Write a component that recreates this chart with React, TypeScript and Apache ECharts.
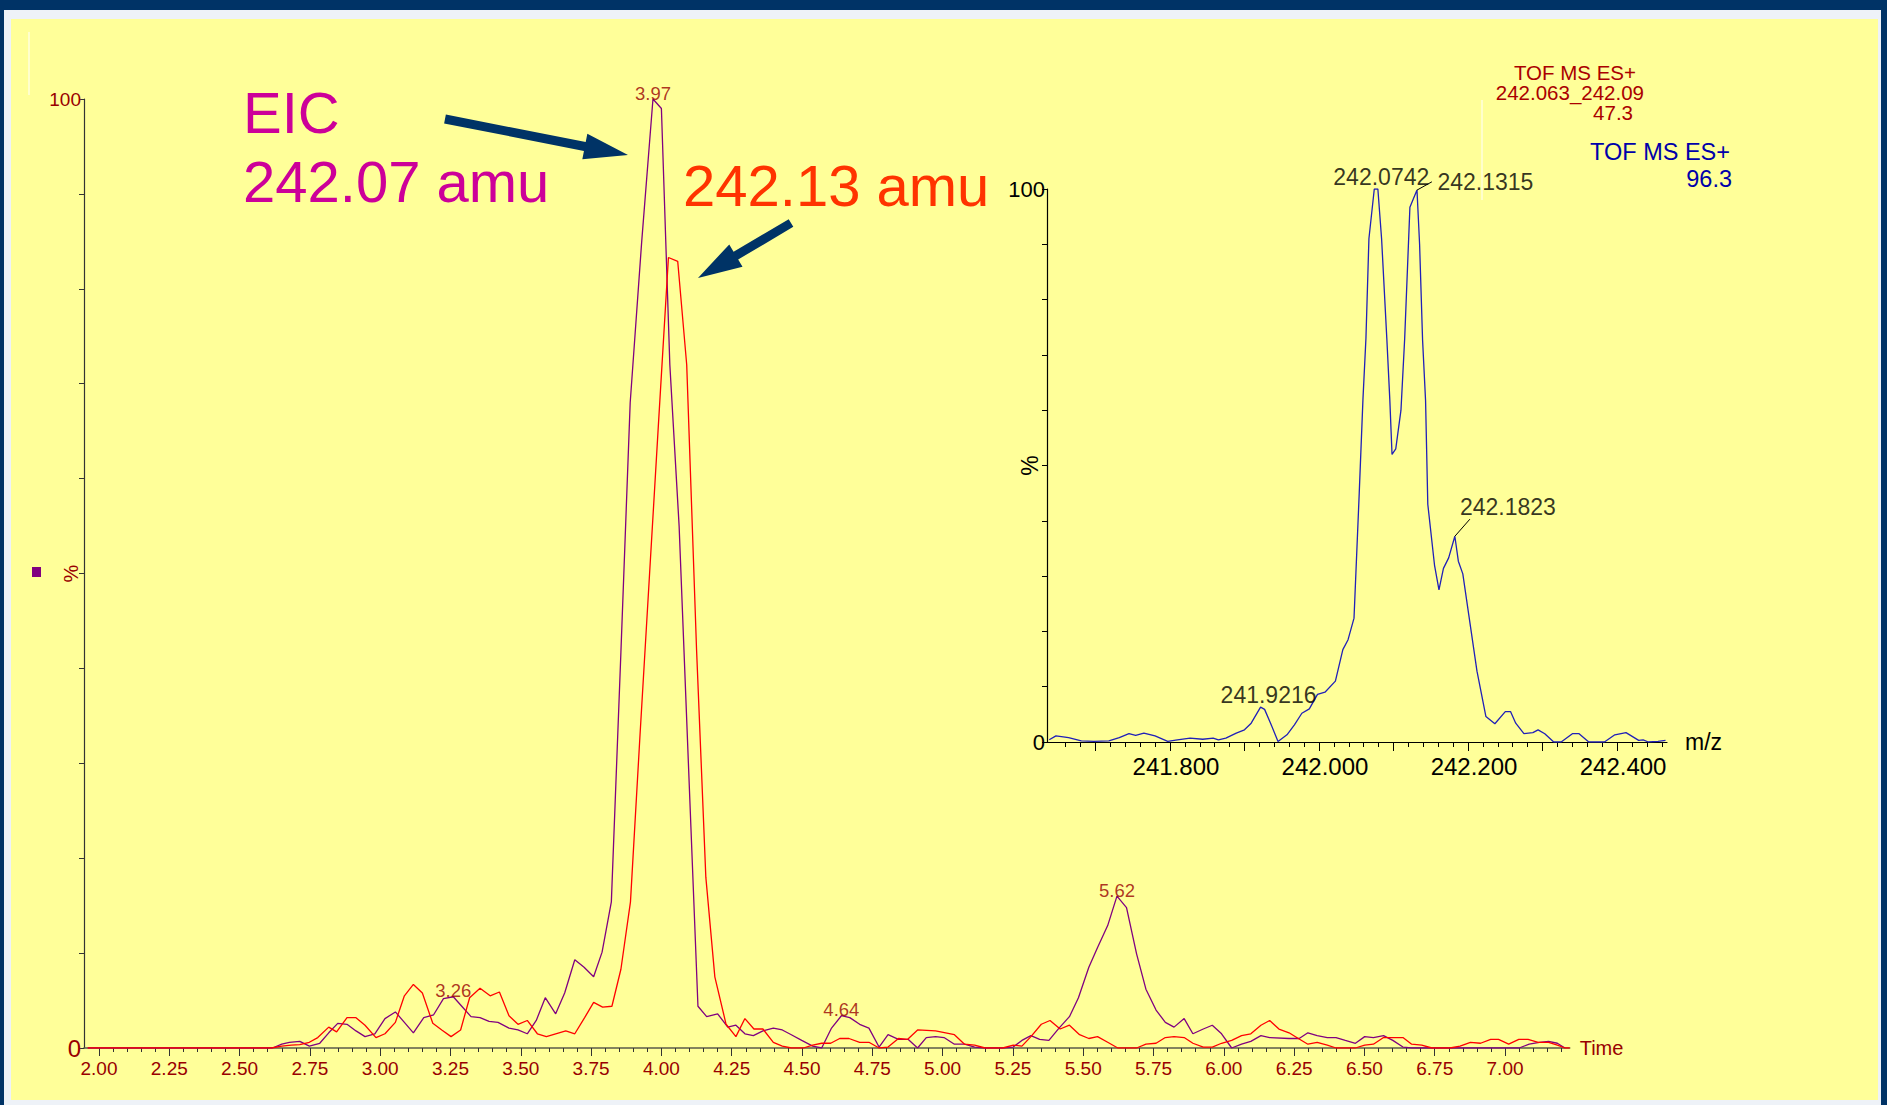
import React, { useEffect, useRef } from "react";
import * as echarts from "echarts";

const FONT = "'Liberation Sans', Arial, Helvetica, sans-serif";
const DARK_RED = "#990000";

// ---- Extracted ion chromatograms: [retention time (min), relative intensity %]
const eic24207: [number, number][] = [
  [1.96, 0], [2.617, 0], [2.65, 0.4], [2.677, 0.6], [2.714, 0.7], [2.748, 0.2], [2.785, 0.5],
  [2.817, 1.6], [2.849, 2.6], [2.882, 2.5], [2.914, 1.8], [2.946, 1.2], [2.981, 1.5], [3.017, 3.1],
  [3.054, 3.8], [3.086, 2.7], [3.118, 1.6], [3.155, 3.2], [3.19, 3.5], [3.225, 5.2], [3.26, 5.4],
  [3.29, 4.4], [3.323, 3.3], [3.355, 3.2], [3.387, 2.8], [3.419, 2.7], [3.458, 2.1], [3.49, 1.9],
  [3.523, 1.5], [3.555, 2.9], [3.587, 5.3], [3.624, 3.6], [3.656, 5.8], [3.692, 9.3], [3.725, 8.5],
  [3.759, 7.5], [3.789, 10.1], [3.822, 15.4], [3.856, 41.7], [3.889, 68], [3.93, 85], [3.97, 100],
  [4.0, 99], [4.03, 72], [4.063, 55], [4.096, 30], [4.13, 4.4], [4.161, 3.3], [4.2, 3.6],
  [4.236, 2.2], [4.265, 2.4], [4.297, 1.5], [4.327, 1.3], [4.361, 1.8], [4.398, 2.1], [4.43, 1.9],
  [4.462, 1.4], [4.499, 0.8], [4.538, 0.2], [4.57, 0], [4.605, 2.1], [4.64, 3.4], [4.67, 3.2],
  [4.705, 2.5], [4.738, 2.1], [4.774, 0.1], [4.806, 1.4], [4.843, 0.9], [4.878, 0.9], [4.911, 0],
  [4.942, 1.1], [4.975, 1.2], [5.005, 1.1], [5.042, 0.4], [5.078, 0.4], [5.114, 0.1], [5.151, 0],
  [5.214, 0], [5.251, 0.1], [5.282, 0.8], [5.314, 1.3], [5.345, 0.9], [5.378, 0.8], [5.414, 2.1],
  [5.451, 3.3], [5.483, 5.3], [5.52, 8.5], [5.551, 10.6], [5.587, 12.9], [5.62, 16], [5.654, 14.8],
  [5.69, 9.9], [5.723, 6.2], [5.759, 4], [5.792, 2.7], [5.823, 2.2], [5.859, 3.1], [5.89, 1.5],
  [5.927, 2], [5.959, 2.4], [5.992, 1.5], [6.028, 0], [6.063, 0.4], [6.096, 0.7], [6.132, 1.3],
  [6.163, 1.1], [6.232, 1], [6.268, 1], [6.299, 1.6], [6.332, 1.3], [6.368, 1.1], [6.399, 1.1],
  [6.432, 0.8], [6.468, 0.5], [6.501, 1.2], [6.532, 1.1], [6.568, 1.3], [6.601, 0.8], [6.637, 0.1],
  [6.668, 0], [7.05, 0], [7.086, 0.4], [7.122, 0.6], [7.155, 0.7], [7.186, 0.5], [7.213, 0],
];

const eic24213: [number, number][] = [
  [1.96, 0], [2.613, 0], [2.65, 0.2], [2.684, 0.3], [2.714, 0.35], [2.748, 0.6], [2.778, 1.1],
  [2.817, 2.2], [2.845, 1.7], [2.882, 3.2], [2.914, 3.2], [2.946, 2.4], [2.985, 1.1], [3.017, 1.5],
  [3.054, 2.7], [3.086, 5.5], [3.118, 6.7], [3.15, 5.8], [3.187, 2.6], [3.219, 1.9], [3.252, 1.2],
  [3.286, 1.9], [3.318, 5.3], [3.355, 6.3], [3.391, 5.5], [3.424, 5.9], [3.458, 3.4], [3.49, 2.5],
  [3.523, 2.9], [3.559, 1.5], [3.591, 1.2], [3.624, 1.5], [3.66, 1.8], [3.692, 1.5], [3.727, 3.2],
  [3.759, 4.8], [3.791, 4.3], [3.824, 4.4], [3.856, 8.3], [3.89, 15.4], [3.924, 33], [3.958, 50],
  [3.99, 66], [4.025, 83.3], [4.058, 82.9], [4.09, 72], [4.125, 42], [4.158, 18], [4.19, 7.5],
  [4.23, 2.5], [4.265, 1.2], [4.297, 3.1], [4.329, 2], [4.361, 2], [4.398, 0.6], [4.43, 0.2],
  [4.462, 0], [4.505, 0], [4.538, 0.3], [4.57, 0.5], [4.602, 0.5], [4.634, 1], [4.667, 1],
  [4.705, 0.6], [4.738, 0.6], [4.774, 0], [4.806, 0.1], [4.843, 1], [4.875, 0.9], [4.911, 1.9],
  [4.975, 1.8], [5.042, 1.4], [5.078, 0.4], [5.114, 0.3], [5.151, 0], [5.214, 0], [5.251, 0.3],
  [5.282, 0.2], [5.314, 1.2], [5.351, 2.5], [5.382, 2.9], [5.418, 2], [5.451, 2.4], [5.487, 1.4],
  [5.52, 1], [5.551, 1.2], [5.587, 0.6], [5.623, 0], [5.69, 0], [5.723, 0.4], [5.759, 0.5],
  [5.792, 1.1], [5.823, 1.2], [5.859, 1.1], [5.89, 0.5], [5.927, 0.1], [5.959, 0.1], [5.992, 0.5],
  [6.028, 0.8], [6.063, 1.3], [6.096, 1.5], [6.132, 2.4], [6.163, 2.9], [6.196, 2], [6.232, 1.6],
  [6.265, 1], [6.299, 0.4], [6.332, 0.6], [6.368, 0.3], [6.399, 0], [6.468, 0], [6.501, 0.3],
  [6.532, 0.4], [6.568, 1.1], [6.601, 1.1], [6.637, 1.1], [6.668, 0.4], [6.704, 0.3], [6.74, 0],
  [6.804, 0], [6.84, 0.2], [6.877, 0.6], [6.913, 0.5], [6.949, 0.9], [6.977, 0.9], [7.013, 0.4],
  [7.049, 0.9], [7.082, 0.9], [7.118, 0.6], [7.155, 0.6], [7.186, 0.3], [7.213, 0], [7.23, 0],
];

const eicPeakTimes = [3.26, 3.97, 4.64, 5.62];
const eicPeakHeights = [5.4, 100, 3.4, 16];

// ---- Mass spectrum inset: [m/z, relative intensity %]
const spectrum: [number, number][] = [
  [241.638, 0.4], [241.647, 1.1], [241.664, 0.8], [241.681, 0.2], [241.698, 0.1], [241.718, 0.2],
  [241.732, 0.8], [241.745, 1.5], [241.754, 1.2], [241.765, 1.6], [241.78, 1.1], [241.797, 0.1],
  [241.81, 0.4], [241.827, 0.7], [241.844, 0.5], [241.858, 0.7], [241.865, 0.4], [241.875, 0.7],
  [241.889, 1.6], [241.9, 2.2], [241.909, 3.4], [241.9216, 6.3], [241.927, 5.9], [241.935, 3.4],
  [241.945, 0.1], [241.957, 1.3], [241.967, 3.1], [241.977, 5.2], [241.987, 6.0], [241.998, 8.6],
  [242.008, 9.0], [242.022, 11.0], [242.032, 16.7], [242.039, 18.5], [242.047, 22.4], [242.054, 45],
  [242.059, 62], [242.063, 73], [242.067, 91], [242.0742, 100], [242.079, 100], [242.084, 91],
  [242.091, 73], [242.095, 62], [242.098, 52], [242.103, 53], [242.11, 60], [242.115, 73],
  [242.122, 96.7], [242.1315, 99.8], [242.135, 90], [242.139, 72.7], [242.143, 61.8], [242.146, 43],
  [242.155, 32], [242.161, 27.5], [242.167, 31.4], [242.174, 33.3], [242.1823, 37.2], [242.187, 32.7],
  [242.193, 30.4], [242.201, 23], [242.212, 12.8], [242.224, 4.6], [242.236, 3.3], [242.25, 5.5],
  [242.257, 5.5], [242.264, 3.4], [242.275, 1.5], [242.287, 1.7], [242.294, 2.2], [242.303, 1.5],
  [242.315, 0], [242.325, 0], [242.34, 1.5], [242.349, 1.5], [242.362, 0], [242.383, 0],
  [242.397, 1.3], [242.412, 1.7], [242.429, 0.3], [242.435, 0.4], [242.442, 0], [242.455, 0.1],
  [242.465, 0.3],
];

const specPeakMz = [241.9216, 242.0742, 242.1315, 242.1823];
const specPeakInt = [6.3, 100, 99.8, 37.2];
const specPeakLabels = ["241.9216", "242.0742", "242.1315", "242.1823"];

// ---- Tick labels
const timeTickLabels = [2.0, 2.25, 2.5, 2.75, 3.0, 3.25, 3.5, 3.75, 4.0, 4.25, 4.5, 4.75, 5.0, 5.25, 5.5, 5.75, 6.0, 6.25, 6.5, 6.75, 7.0];
const mzTickLabels = [241.8, 242.0, 242.2, 242.4];
const mzMajorTicks = [241.7, 241.8, 241.9, 242.0, 242.1, 242.2, 242.3, 242.4];

const timeMinorTicks: number[] = [];
for (let i = 0; i <= 104; i++) timeMinorTicks.push(Math.round((2 + i * 0.05) * 100) / 100);
const mzMinorTicks: number[] = [];
for (let i = 0; i <= 40; i++) mzMinorTicks.push(Math.round((241.66 + i * 0.02) * 1000) / 1000);

const T_MIN = 1.9467;
const T_MAX = 7.23;
const MZ_MIN = 241.635;
const MZ_MAX = 242.467;

function arrow(tail: number[], tip: number[], shaft: number, headLen: number, headW: number) {
  const dx = tip[0] - tail[0];
  const dy = tip[1] - tail[1];
  const L = Math.hypot(dx, dy);
  const ux = dx / L, uy = dy / L;
  const nx = -uy, ny = ux;
  const bx = tip[0] - ux * headLen, by = tip[1] - uy * headLen;
  return [
    [tail[0] + (nx * shaft) / 2, tail[1] + (ny * shaft) / 2],
    [bx + (nx * shaft) / 2, by + (ny * shaft) / 2],
    [bx + (nx * headW) / 2, by + (ny * headW) / 2],
    [tip[0], tip[1]],
    [bx - (nx * headW) / 2, by - (ny * headW) / 2],
    [bx - (nx * shaft) / 2, by - (ny * shaft) / 2],
    [tail[0] - (nx * shaft) / 2, tail[1] - (ny * shaft) / 2],
  ];
}

function txt(text: string, x: number, y: number, size: number, fill: string, align = "left") {
  return {
    type: "text",
    x,
    y,
    silent: true,
    style: {
      text,
      fill,
      fontSize: size,
      fontFamily: FONT,
      align,
      textAlign: align,
      verticalAlign: "middle",
      textVerticalAlign: "middle",
    },
  };
}

export default function App() {
  const ref = useRef<HTMLDivElement>(null);

  useEffect(() => {
    document.body.style.margin = "0";
    const chart = echarts.init(ref.current!, null, { renderer: "svg" });

    const NAVY = "#003366";
    const EDGE = "#EEF2F8";

    const leader1315: [number, number][] = [[242.1315, 99.8], [242.1515, 101.3]];
    const leader1823: [number, number][] = [[242.1823, 37.2], [242.2025, 40.3]];

    const option: any = {
      animation: false,
      backgroundColor: "#FFFF99",
      textStyle: { fontFamily: FONT },
      grid: [
        { left: 84, top: 99, width: 1485.7, height: 949, containLabel: false },
        { left: 1047, top: 189, width: 620, height: 553, containLabel: false },
      ],
      xAxis: [
        {
          gridIndex: 0, type: "value", position: "bottom", min: T_MIN, max: T_MAX,
          axisLine: { show: true, onZero: false, lineStyle: { color: "#5a5a4a", width: 1.6 } },
          axisTick: { show: true, customValues: timeMinorTicks, length: 4, lineStyle: { color: "#333" } },
          axisLabel: { show: false },
          splitLine: { show: false },
          name: "Time", nameLocation: "end", nameGap: 10, nameMoveOverlap: false,
          nameTextStyle: { color: DARK_RED, fontSize: 20, fontFamily: FONT, verticalAlign: "middle" },
        },
        {
          gridIndex: 0, type: "value", position: "bottom", min: T_MIN, max: T_MAX,
          axisLine: { show: false },
          axisTick: { show: true, customValues: timeTickLabels, length: 8, lineStyle: { color: "#333" } },
          axisLabel: {
            show: true, customValues: timeTickLabels, formatter: (v: number) => v.toFixed(2),
            color: DARK_RED, fontSize: 19, fontFamily: FONT, margin: 11,
          },
          splitLine: { show: false },
        },
        {
          gridIndex: 1, type: "value", position: "bottom", min: MZ_MIN, max: MZ_MAX,
          axisLine: { show: true, onZero: false, lineStyle: { color: "#000", width: 1.2 } },
          axisTick: { show: true, customValues: mzMinorTicks, length: 5, lineStyle: { color: "#000" } },
          axisLabel: { show: false },
          splitLine: { show: false },
          name: "m/z", nameLocation: "end", nameGap: 18, nameMoveOverlap: false,
          nameTextStyle: { color: "#000", fontSize: 23, fontFamily: FONT, verticalAlign: "middle" },
        },
        {
          gridIndex: 1, type: "value", position: "bottom", min: MZ_MIN, max: MZ_MAX,
          axisLine: { show: false },
          axisTick: { show: true, customValues: mzMajorTicks, length: 9, lineStyle: { color: "#000" } },
          axisLabel: {
            show: true, customValues: mzTickLabels, formatter: (v: number) => v.toFixed(3),
            color: "#000", fontSize: 24, fontFamily: FONT, margin: 12, padding: [0, 0, 0, 12],
          },
          splitLine: { show: false },
        },
      ],
      yAxis: [
        {
          gridIndex: 0, type: "value", min: 0, max: 100, interval: 10,
          axisLine: { show: true, lineStyle: { color: "#333", width: 1.2 } },
          axisTick: { show: true, length: 5, lineStyle: { color: "#333" } },
          axisLabel: {
            show: true, customValues: [0, 100], color: DARK_RED, fontFamily: FONT, margin: 3,
            formatter: (v: number) => (v === 0 ? "{z|0}" : "{h|100}"),
            rich: { z: { fontSize: 24, color: DARK_RED, fontFamily: FONT }, h: { fontSize: 19, color: DARK_RED, fontFamily: FONT } },
          },
          splitLine: { show: false },
          name: "%", nameLocation: "middle", nameRotate: 90, nameGap: 3, nameMoveOverlap: false,
          nameTextStyle: { color: DARK_RED, fontSize: 20, fontFamily: FONT },
        },
        {
          gridIndex: 1, type: "value", min: 0, max: 100, interval: 10,
          axisLine: { show: true, lineStyle: { color: "#000", width: 1.2 } },
          axisTick: { show: true, length: 5, lineStyle: { color: "#000" } },
          axisLabel: { show: true, customValues: [0, 100], color: "#000", fontSize: 22, fontFamily: FONT, margin: 2 },
          splitLine: { show: false },
          name: "%", nameLocation: "middle", nameRotate: 90, nameGap: 6, nameMoveOverlap: false,
          nameTextStyle: { color: "#000", fontSize: 23, fontFamily: FONT },
        },
      ],
      series: [
        {
          name: "EIC 242.07", type: "line", xAxisIndex: 0, yAxisIndex: 0, data: eic24207,
          symbol: "none", lineStyle: { color: "#800080", width: 1.3 }, z: 3,
        },
        {
          name: "EIC 242.13", type: "line", xAxisIndex: 0, yAxisIndex: 0, data: eic24213,
          symbol: "none", lineStyle: { color: "#FF0000", width: 1.3 }, z: 4,
        },
        {
          name: "EIC peaks", type: "scatter", xAxisIndex: 0, yAxisIndex: 0,
          data: eicPeakTimes.map((t, i) => [t, eicPeakHeights[i]]),
          symbolSize: 1, itemStyle: { color: "transparent" },
          label: {
            show: true, position: "top", distance: 0, offset: [0, 4],
            formatter: (p: any) => p.value[0].toFixed(2),
            color: DARK_RED, fontSize: 18.5, fontFamily: FONT, textBorderWidth: 0,
          },
          z: 5,
        },
        {
          name: "Spectrum", type: "line", xAxisIndex: 2, yAxisIndex: 1, data: spectrum,
          symbol: "none", lineStyle: { color: "#2020B8", width: 1.3 }, z: 3,
        },
        {
          type: "line", xAxisIndex: 2, yAxisIndex: 1, data: leader1315, clip: false,
          symbol: "none", lineStyle: { color: "#000", width: 1 }, z: 4,
        },
        {
          type: "line", xAxisIndex: 2, yAxisIndex: 1, data: leader1823, clip: false,
          symbol: "none", lineStyle: { color: "#000", width: 1 }, z: 4,
        },
        {
          name: "Spectrum peaks", type: "scatter", xAxisIndex: 2, yAxisIndex: 1,
          symbolSize: 1, itemStyle: { color: "transparent" }, clip: false,
          data: [
            { value: [specPeakMz[0], specPeakInt[0]], label: { position: "top", distance: 0, offset: [8, 0] } },
            { value: [specPeakMz[1], specPeakInt[1]], label: { position: "top", distance: 0, offset: [7, 0] } },
            { value: [leader1315[1][0], leader1315[1][1]], label: { position: "right", distance: 5, offset: [0, 0] } },
            { value: [leader1823[1][0], leader1823[1][1]], label: { position: "top", distance: 0, offset: [38, 0] } },
          ],
          label: {
            show: true,
            formatter: (p: any) => specPeakLabels[p.dataIndex],
            color: "#000", fontSize: 23, fontFamily: FONT, textBorderWidth: 0,
          },
          z: 5,
        },
      ],
      graphic: [
        // frame
        { type: "rect", shape: { x: 0, y: 0, width: 1887, height: 10 }, style: { fill: NAVY }, silent: true },
        { type: "rect", shape: { x: 0, y: 0, width: 4, height: 1105 }, style: { fill: NAVY }, silent: true },
        { type: "rect", shape: { x: 1881, y: 0, width: 6, height: 1105 }, style: { fill: NAVY }, silent: true },
        { type: "rect", shape: { x: 4, y: 10, width: 1877, height: 9 }, style: { fill: EDGE }, silent: true },
        { type: "rect", shape: { x: 4, y: 10, width: 7, height: 1095 }, style: { fill: EDGE }, silent: true },
        { type: "rect", shape: { x: 1878, y: 10, width: 3, height: 1095 }, style: { fill: EDGE }, silent: true },
        { type: "rect", shape: { x: 4, y: 1100, width: 1877, height: 5 }, style: { fill: EDGE }, silent: true },
        // thin white marker lines
        { type: "line", shape: { x1: 29, y1: 32, x2: 29, y2: 95 }, style: { stroke: "#FFFFFF", lineWidth: 1 }, silent: true },
        { type: "line", shape: { x1: 1482, y1: 100, x2: 1482, y2: 200 }, style: { stroke: "#FFFFFF", lineWidth: 1 }, silent: true },
        // legend swatch
        { type: "rect", shape: { x: 32, y: 567, width: 9, height: 10 }, style: { fill: "#800080" }, silent: true },
        // annotations
        txt("EIC", 243, 112, 58, "#CC0099"),
        txt("242.07 amu", 243, 181, 58, "#CC0099"),
        txt("242.13 amu", 683, 185, 58, "#FF3300"),
        { type: "polygon", shape: { points: arrow([445, 119], [628, 155], 9, 44, 26) }, style: { fill: NAVY }, silent: true },
        { type: "polygon", shape: { points: arrow([791, 223], [698, 278], 9, 44, 26) }, style: { fill: NAVY }, silent: true },
        // spectrum headers
        txt("TOF MS ES+", 1636, 72, 20.5, "#AA0000", "right"),
        txt("242.063_242.09", 1644, 92, 20.5, "#AA0000", "right"),
        txt("47.3", 1633, 112, 20.5, "#AA0000", "right"),
        txt("TOF MS ES+", 1730, 152, 23.5, "#0000AA", "right"),
        txt("96.3", 1732, 179, 23.5, "#0000AA", "right"),
      ],
    };

    chart.setOption(option);
    return () => chart.dispose();
  }, []);

  return (
    <div
      ref={ref}
      style={{ position: "fixed", left: 0, top: 0, width: 1887, height: 1105 }}
    />
  );
}
